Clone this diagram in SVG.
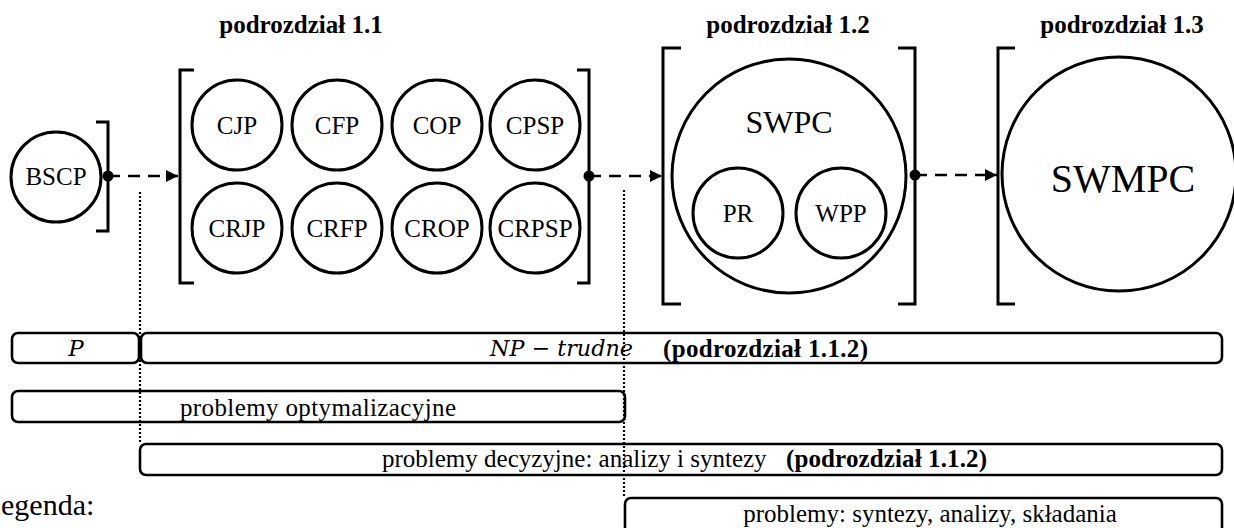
<svg xmlns="http://www.w3.org/2000/svg" width="1234" height="528" viewBox="0 0 1234 528">
  <defs>
    <style>
      .node { fill: none; stroke: #000; stroke-width: 3; }
      .brk { fill: none; stroke: #000; stroke-width: 3; }
      .bar { fill: none; stroke: #000; stroke-width: 2.6; }
      .lbl { font-family: "Liberation Serif", "Times New Roman", serif; font-size: 25px; fill: #000; text-anchor: middle; }
      .hdr { font-family: "Liberation Serif", "Times New Roman", serif; font-size: 25px; font-weight: bold; fill: #000; text-anchor: middle; }
      .txt { font-family: "Liberation Serif", "Times New Roman", serif; font-size: 25px; fill: #000; }
      .b { font-weight: bold; }
      .math { font-family: "DejaVu Serif", "Liberation Serif", serif; font-style: italic; font-size: 23px; fill: #000; }
      .flow { fill: none; stroke: #000; stroke-width: 2.5; stroke-dasharray: 12 8; }
      .dot { fill: none; stroke: #000; stroke-width: 2.2; stroke-dasharray: 2 2; }
    </style>
    <marker id="head" viewBox="0 0 12 12" refX="12" refY="6" markerWidth="12" markerHeight="12" markerUnits="userSpaceOnUse" orient="auto">
      <path d="M0,0 L12,6 L0,12 Z" fill="#000"/>
    </marker>
    <marker id="tail" viewBox="0 0 12 12" refX="6" refY="6" markerWidth="12" markerHeight="12" markerUnits="userSpaceOnUse" orient="auto">
      <circle cx="6" cy="6" r="5.5" fill="#000"/>
    </marker>
  </defs>
  <rect width="1234" height="528" fill="#fff"/>

  <!-- section headings -->
  <g id="headings">
    <text class="hdr" x="301" y="33">podrozdział 1.1</text>
    <text class="hdr" x="788" y="33">podrozdział 1.2</text>
    <text class="hdr" x="1122" y="33">podrozdział 1.3</text>
  </g>

  <!-- brackets grouping the stages -->
  <g id="brackets">
    <path class="brk" d="M96,122 H108 V231 H96"/>
    <path class="brk" d="M194,70 H180 V283 H194"/>
    <path class="brk" d="M577,70 H589 V283 H577"/>
    <path class="brk" d="M681,48 H663 V304 H681"/>
    <path class="brk" d="M898,48 H915 V304 H898"/>
    <path class="brk" d="M1015,48 H998 V304 H1015"/>
  </g>

  <g id="BSCP">
    <circle class="node" cx="56" cy="177" r="45"/>
    <text class="lbl" x="56" y="185">BSCP</text>
  </g>

  <g id="CJP">
    <circle class="node" cx="237" cy="125" r="45"/>
    <text class="lbl" x="237" y="134">CJP</text>
  </g>
  <g id="CFP">
    <circle class="node" cx="337" cy="125" r="45"/>
    <text class="lbl" x="337" y="134">CFP</text>
  </g>
  <g id="COP">
    <circle class="node" cx="437" cy="125" r="45"/>
    <text class="lbl" x="437" y="134">COP</text>
  </g>
  <g id="CPSP">
    <circle class="node" cx="535" cy="125" r="45"/>
    <text class="lbl" x="535" y="134">CPSP</text>
  </g>
  <g id="CRJP">
    <circle class="node" cx="237" cy="228" r="45"/>
    <text class="lbl" x="237" y="237">CRJP</text>
  </g>
  <g id="CRFP">
    <circle class="node" cx="337" cy="228" r="45"/>
    <text class="lbl" x="337" y="237">CRFP</text>
  </g>
  <g id="CROP">
    <circle class="node" cx="437" cy="228" r="45"/>
    <text class="lbl" x="437" y="237">CROP</text>
  </g>
  <g id="CRPSP">
    <circle class="node" cx="535" cy="228" r="45"/>
    <text class="lbl" x="535" y="237">CRPSP</text>
  </g>

  <g id="SWPC">
    <circle class="node" cx="789" cy="176" r="117"/>
    <text class="lbl" x="789" y="133" style="font-size:32px">SWPC</text>
  </g>
  <g id="PR">
    <circle class="node" cx="738" cy="213" r="45"/>
    <text class="lbl" x="738" y="222">PR</text>
  </g>
  <g id="WPP">
    <circle class="node" cx="841" cy="213" r="45"/>
    <text class="lbl" x="841" y="222">WPP</text>
  </g>

  <g id="SWMPC">
    <circle class="node" cx="1119" cy="174" r="117"/>
    <text class="lbl" x="1123" y="192" style="font-size:40px">SWMPC</text>
  </g>

  <!-- stage-to-stage connectors and range guides -->
  <g id="connectors">
    <line class="flow" x1="108" y1="176" x2="178" y2="176" marker-start="url(#tail)" marker-end="url(#head)"/>
    <line class="flow" x1="589" y1="176" x2="662" y2="176" marker-start="url(#tail)" marker-end="url(#head)"/>
    <line class="flow" x1="915" y1="175" x2="997" y2="175" marker-start="url(#tail)" marker-end="url(#head)"/>
    <line class="dot" x1="140" y1="192" x2="140" y2="444"/>
    <line class="dot" x1="624" y1="190" x2="624" y2="498"/>
  </g>

  <!-- complexity / problem-class bars -->
  <g id="bar-P">
    <rect class="bar" x="12" y="333" width="127" height="30" rx="6"/>
    <text class="math" x="76" y="356" text-anchor="middle">P</text>
  </g>
  <g id="bar-NP">
    <rect class="bar" x="141" y="333" width="1081" height="30" rx="6"/>
    <text class="math" x="490" y="356" textLength="143" lengthAdjust="spacingAndGlyphs">NP − trudne</text>
    <text class="txt b" x="663" y="357" textLength="205">(podrozdział 1.1.2)</text>
  </g>
  <g id="bar-opt">
    <rect class="bar" x="12" y="391" width="613" height="31" rx="6"/>
    <text class="txt" x="180" y="416" textLength="276">problemy optymalizacyjne</text>
  </g>
  <g id="bar-dec">
    <rect class="bar" x="140" y="444" width="1082" height="31" rx="6"/>
    <text class="txt" x="382" y="467">problemy decyzyjne: analizy i syntezy</text>
    <text class="txt b" x="786" y="467" textLength="201">(podrozdział 1.1.2)</text>
  </g>
  <g id="bar-synth">
    <rect class="bar" x="625" y="498" width="597" height="40" rx="6"/>
    <text class="txt" x="930" y="522" text-anchor="middle">problemy: syntezy, analizy, składania</text>
  </g>

  <text class="txt" x="1" y="515" style="font-size:30px">egenda:</text>
</svg>
